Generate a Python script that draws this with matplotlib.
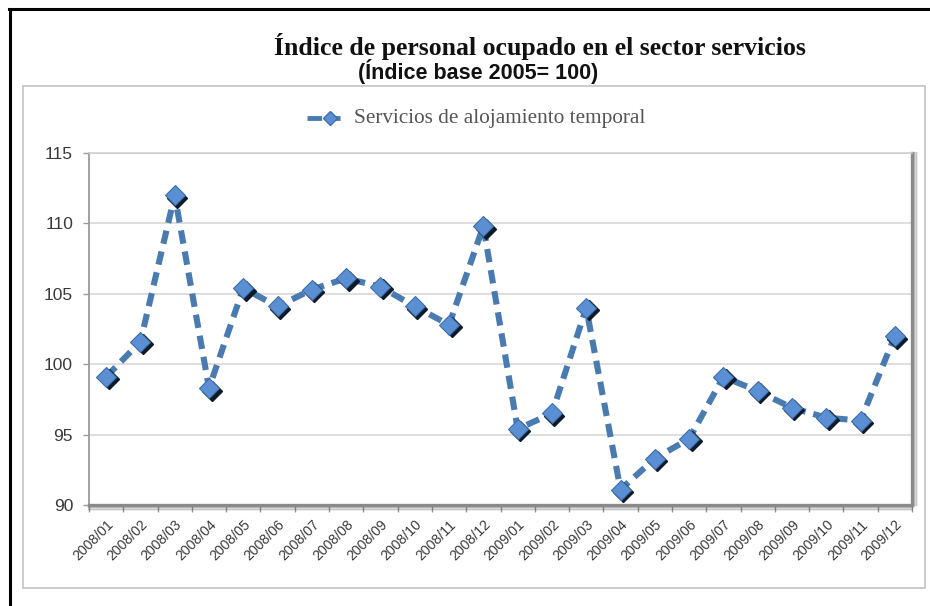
import matplotlib
matplotlib.use("Agg")
import matplotlib.pyplot as plt
import matplotlib.transforms as mtransforms
from matplotlib.patches import Rectangle
from matplotlib.lines import Line2D
import numpy as np

# Monthly index values (base 2005 = 100)
months = ["2008/01", "2008/02", "2008/03", "2008/04", "2008/05", "2008/06",
          "2008/07", "2008/08", "2008/09", "2008/10", "2008/11", "2008/12",
          "2009/01", "2009/02", "2009/03", "2009/04", "2009/05", "2009/06",
          "2009/07", "2009/08", "2009/09", "2009/10", "2009/11", "2009/12"]
alojamiento = [99.1, 101.6, 112.0, 98.3, 105.4, 104.1,
               105.3, 106.1, 105.5, 104.1, 102.8, 109.8,
               95.4, 96.5, 104.0, 91.1, 93.3, 94.7,
               99.1, 98.1, 96.9, 96.2, 96.0, 102.0]
y_ticks = [90, 95, 100, 105, 110, 115]

title = "Índice de personal ocupado en el sector servicios"
subtitle = "(Índice base 2005= 100)"
series_name = "Servicios de alojamiento temporal"

W, H = 930, 606
fig = plt.figure(figsize=(W / 100, H / 100), dpi=100)
fig.patch.set_facecolor("white")

def fx(px):
    return px / W

def fy(py):
    return 1 - py / H

# Outer frame: black rules at top and left
fig.add_artist(Line2D([fx(9), fx(930)], [fy(9), fy(9)], color="black", lw=2.2))
fig.add_artist(Line2D([fx(10), fx(10)], [fy(9), fy(606)], color="black", lw=2.2))

# Chart-area box (light gray)
fig.add_artist(Rectangle((fx(23), fy(588)), fx(925) - fx(23), fy(86) - fy(588),
                         transform=fig.transFigure, fill=False,
                         edgecolor="#c4c4c4", lw=1.2))

# Titles
fig.text(fx(540), fy(47), title, ha="center", va="center",
         fontsize=18.5, fontweight="bold", family="Liberation Serif",
         color="#111111")
fig.text(fx(478), fy(72), subtitle, ha="center", va="center",
         fontsize=15.5, fontweight="bold",
         family=["DejaVu Sans Condensed", "Liberation Sans"],
         color="#111111")

# Plot area
ax_l, ax_r, ax_t, ax_b = 89, 912, 153, 505
ax = fig.add_axes([fx(ax_l), fy(ax_b), fx(ax_r) - fx(ax_l), fy(ax_t) - fy(ax_b)])
ax.set_facecolor("white")

x = np.arange(len(months))
ax.set_xlim(-0.5, len(months) - 0.5)
ax.set_ylim(90, 115)

ax.set_yticks(y_ticks)
ax.set_yticklabels([str(v) for v in y_ticks])
ax.yaxis.grid(True, color="#d4d4d4", lw=1.1)
ax.set_axisbelow(True)

ax.set_xticks(x)
ax.set_xticklabels(months, rotation=45, ha="right", rotation_mode="anchor",
                   fontsize=10.2, color="#3a3a3a", family="Liberation Sans")
ax.set_xticks(np.arange(-0.5, len(months)), minor=True)
ax.tick_params(axis="x", which="major", length=0, pad=9)
ax.tick_params(axis="x", which="minor", length=5, color="#9a9a9a", width=1,
               direction="out")
ax.tick_params(axis="y", length=4, color="#9a9a9a", width=1, direction="out",
               labelsize=12.5, labelcolor="#3a3a3a", pad=7.5)
for lab in ax.get_yticklabels():
    lab.set_family("Liberation Sans")

ax.spines["top"].set_color("#cfcfcf")
ax.spines["top"].set_linewidth(1.2)
ax.spines["left"].set_color("#9a9a9a")
ax.spines["left"].set_linewidth(1.3)
ax.spines["bottom"].set_color("#8a8a8a")
ax.spines["bottom"].set_linewidth(2.4)
ax.spines["right"].set_color("#8a8a8a")
ax.spines["right"].set_linewidth(2.4)

# Soft shadow below and to the right of the plot area
for i, a in enumerate([0.25, 0.15, 0.08]):
    off = 2 + i * 1.5
    sh = mtransforms.offset_copy(ax.transAxes, fig=fig, x=0, y=-off, units="dots")
    ax.add_line(Line2D([0.0, 1.0], [0, 0], transform=sh, color="black",
                       alpha=a, lw=1.5, clip_on=False))
    sh2 = mtransforms.offset_copy(ax.transAxes, fig=fig, x=off, y=0, units="dots")
    ax.add_line(Line2D([1, 1], [0.0, 1.0], transform=sh2, color="black",
                       alpha=a, lw=1.5, clip_on=False))

# Series: dashed line with shadowed diamond markers
line_color = "#4a7bb0"
ax.plot(x, alojamiento, color=line_color, lw=4.4, ls=(0, (2.2, 1.3)),
        dash_capstyle="butt", zorder=3, clip_on=False)
shadow = mtransforms.offset_copy(ax.transData, fig=fig, x=2.5, y=-2.5, units="dots")
ax.plot(x, alojamiento, ls="none", marker="D", ms=10.5, color="#0d1a2a",
        transform=shadow, zorder=4, clip_on=False)
ax.plot(x, alojamiento, ls="none", marker="D", ms=10.5,
        markerfacecolor="#5b8fd3", markeredgecolor="#3f6fa8", markeredgewidth=0.8,
        zorder=5, clip_on=False)

# Legend entry drawn by hand above the plot area
lx0, lx1, ly = 307, 343, 118
fig.add_artist(Line2D([fx(lx0), fx(lx1)], [fy(ly), fy(ly)], color=line_color,
                      lw=3.5, ls=(0, (3, 0.8))))
fig.add_artist(Line2D([fx(330)], [fy(ly)], marker="D", ms=7.5,
                      markerfacecolor="#5b8fd3", markeredgecolor="#3f6fa8",
                      ls="none"))
fig.text(fx(354), fy(ly), series_name, ha="left", va="center",
         fontsize=15.3, family="Liberation Serif", color="#555555")

fig.savefig("out.png", dpi=100, facecolor="white")
